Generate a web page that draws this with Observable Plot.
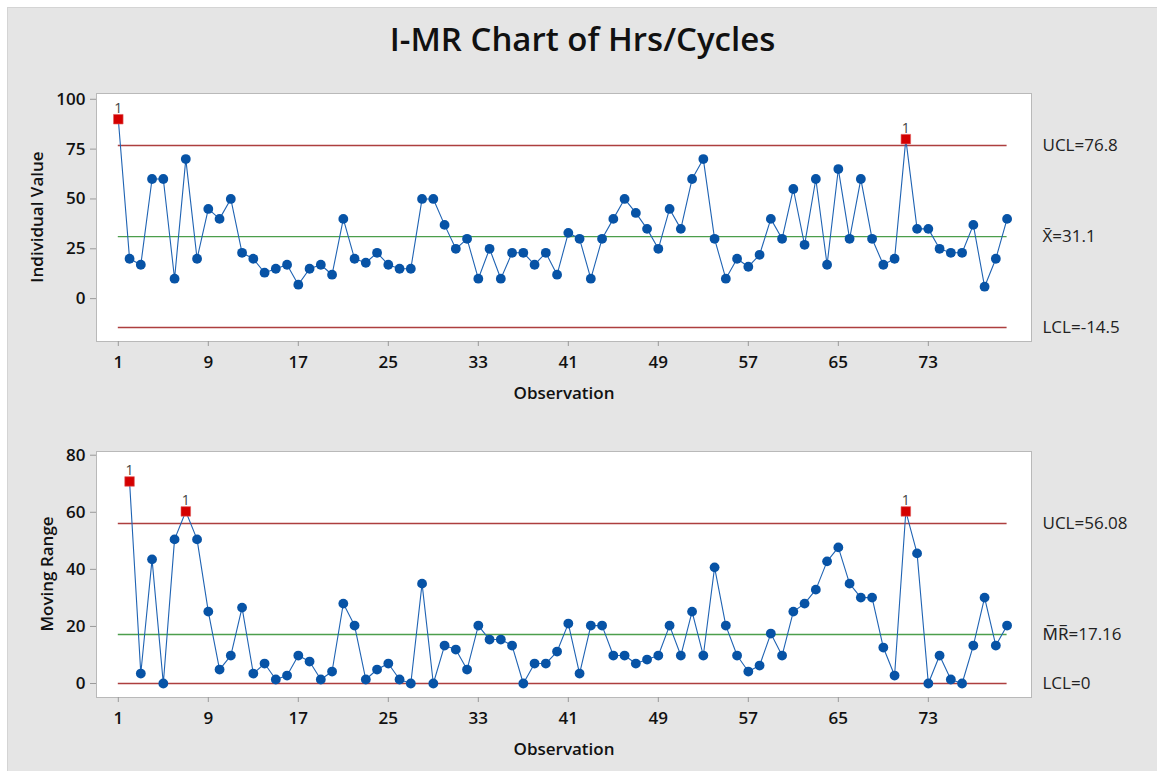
<!DOCTYPE html>
<html>
<head>
<meta charset="utf-8">
<script src="https://cdn.jsdelivr.net/npm/d3@7"></script>
<script src="https://cdn.jsdelivr.net/npm/@observablehq/plot@0.6"></script>
<style>
html, body { margin: 0; padding: 0; background: #ffffff; width: 1157px; height: 771px; overflow: hidden; }
body { position: relative; font-family: "Open Sans", "Noto Sans", sans-serif; }
#bg { position: absolute; left: 7px; top: 7px; right: 0; bottom: 0; background: #e5e5e5; border-left: 1px solid #d4d4d4; border-top: 1px solid #d4d4d4; }
#title { position: absolute; left: 0; top: 22px; width: 1165px; text-align: center; font-size: 33px; font-weight: 600; line-height: 1; color: #111; }
.chart { position: absolute; left: 0; }
.axtitle { position: absolute; font-size: 17px; font-weight: 600; color: #111; white-space: nowrap; line-height: 1; }
</style>
</head>
<body>
<div id="bg"></div>
<div id="title">I-MR Chart of Hrs/Cycles</div>
<div id="topChart" class="chart" style="top:60px"></div>
<div id="bottomChart" class="chart" style="top:410px"></div>
<div class="axtitle" style="left:36px; top:217px; transform: translate(-50%,-50%) rotate(-90deg);">Individual Value</div>
<div class="axtitle" style="left:564px; top:392px; transform: translate(-50%,-50%);">Observation</div>
<div class="axtitle" style="left:46px; top:574px; transform: translate(-50%,-50%) rotate(-90deg);">Moving Range</div>
<div class="axtitle" style="left:564px; top:748px; transform: translate(-50%,-50%);">Observation</div>
<script>
// ---------------- data ----------------
const individualValues = [
  90, 20, 17, 60, 60, 10, 70, 20, 45, 40,
  50, 23, 20, 13, 15, 17, 7, 15, 17, 12,
  40, 20, 18, 23, 17, 15, 15, 50, 50, 37,
  25, 30, 10, 25, 10, 23, 23, 17, 23, 12,
  33, 30, 10, 30, 40, 50, 43, 35, 25, 45,
  35, 60, 70, 30, 10, 20, 16, 22, 40, 30,
  55, 27, 60, 17, 65, 30, 60, 30, 17, 20,
  80, 35, 35, 25, 23, 23, 37, 6, 20, 40
];
// moving ranges for observations 2..80
const movingRanges = [
  70.8, 3.5, 43.5, 0, 50.5, 60.3, 50.5, 25.2, 4.9, 9.8,
  26.6, 3.5, 7, 1.4, 2.8, 9.8, 7.7, 1.4, 4.2, 28,
  20.3, 1.4, 4.9, 7, 1.4, 0, 35, 0, 13.3, 11.9,
  4.9, 20.3, 15.4, 15.4, 13.3, 0, 7, 7, 11.2, 21,
  3.5, 20.3, 20.3, 9.8, 9.8, 7, 8.4, 9.8, 20.3, 9.8,
  25.2, 9.8, 40.7, 20.3, 9.8, 4.2, 6.3, 17.5, 9.8, 25.2,
  28, 32.9, 42.8, 47.7, 35, 30.1, 30.1, 12.6, 2.8, 60.3,
  45.6, 0, 9.8, 1.4, 0, 13.3, 30.1, 13.3, 20.3
];
const individualFlags = [1, 71];
const movingRangeFlags = [2, 7, 71];
const xTicks = [1, 9, 17, 25, 33, 41, 49, 57, 65, 73];
const individualTicks = [0, 25, 50, 75, 100];
const movingRangeTicks = [0, 20, 40, 60, 80];
const individualLimits = [
  {label: "UCL=76.8", value: 76.8, kind: "limit"},
  {label: "X\u0304=31.1", value: 31.1, kind: "center"},
  {label: "LCL=-14.5", value: -14.5, kind: "limit"}
];
const movingRangeLimits = [
  {label: "UCL=56.08", value: 56.08, kind: "limit"},
  {label: "M\u0305R\u0305=17.16", value: 17.16, kind: "center"},
  {label: "LCL=0", value: 0, kind: "limit"}
];

// ---------------- styling ----------------
const BLUE_LINE = "#1f63b3";
const BLUE_DOT = "#0753a6";
const RED = "#d40000";
const LIMIT = "#ad3f3f";
const CENTER = "#4c9e4c";
const FONT = "'Open Sans', 'Noto Sans', sans-serif";

const iData = individualValues.map((v, i) => ({obs: i + 1, value: v}));
const mrData = movingRanges.map((v, i) => ({obs: i + 2, value: v}));
const firstObs = 1, lastObs = individualValues.length;

function controlChart({data, flags, limits, yTicks, yDomain, height, marginTop, marginBottom}) {
  const normal = data.filter(d => !flags.includes(d.obs));
  const flagged = data.filter(d => flags.includes(d.obs));
  return Plot.plot({
    width: 1157,
    height,
    marginLeft: 96,
    marginRight: 126,
    marginTop,
    marginBottom,
    style: {background: "transparent", fontFamily: FONT, fontSize: "17px", color: "#111", overflow: "visible"},
    x: {domain: [-0.938, 82.17]},
    y: {domain: yDomain},
    marks: [
      Plot.frame({fill: "white", stroke: "#b9b9b9"}),
      Plot.axisX({ticks: xTicks, tickSize: 5, tickPadding: 9, stroke: "#9a9a9a", fontSize: 17, fontWeight: 600, fill: "#111", label: null}),
      Plot.axisY({ticks: yTicks, tickSize: 6, tickPadding: 5, stroke: "#9a9a9a", fontSize: 17, fontWeight: 600, fill: "#111", label: null}),
      Plot.ruleY(limits, {y: "value", x1: firstObs, x2: lastObs, stroke: d => d.kind === "center" ? CENTER : LIMIT, strokeWidth: 1.4}),
      Plot.text(limits, {y: "value", text: "label", frameAnchor: "right", dx: 11, textAnchor: "start", fontSize: 17, fill: "#222"}),
      Plot.line(data, {x: "obs", y: "value", stroke: BLUE_LINE, strokeWidth: 1.1}),
      Plot.dot(normal, {x: "obs", y: "value", r: 4.9, fill: BLUE_DOT, stroke: "none"}),
      Plot.dot(flagged, {x: "obs", y: "value", symbol: "square", r: 5.4, fill: RED, stroke: "#e06060", strokeWidth: 0.6}),
      Plot.text(flagged, {x: "obs", y: "value", text: () => "1", dy: -6, lineAnchor: "bottom", fontSize: 14, fill: "#444"})
    ]
  });
}

document.getElementById("topChart").append(controlChart({
  data: iData, flags: individualFlags, limits: individualLimits,
  yTicks: individualTicks, yDomain: [-21.5, 102.9],
  height: 340, marginTop: 33, marginBottom: 59
}));

document.getElementById("bottomChart").append(controlChart({
  data: mrData, flags: movingRangeFlags, limits: movingRangeLimits,
  yTicks: movingRangeTicks, yDomain: [-4.9, 81.3],
  height: 361, marginTop: 41, marginBottom: 74
}));
</script>
</body>
</html>
